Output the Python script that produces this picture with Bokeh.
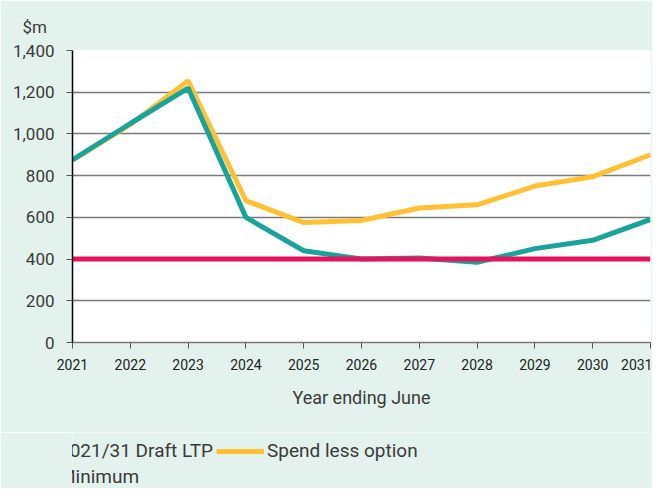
from bokeh.plotting import figure
from bokeh.layouts import column
from bokeh.models import Legend, LegendItem, Range1d, FixedTicker, NumeralTickFormatter
from bokeh.embed import file_html
from bokeh.resources import INLINE

years = [2021, 2022, 2023, 2024, 2025, 2026, 2027, 2028, 2029, 2030, 2031]
draft_ltp = [875, 1050, 1220, 600, 440, 400, 405, 385, 450, 490, 590]
spend_less = [875, 1045, 1255, 680, 575, 585, 645, 660, 750, 795, 900]
minimum = [400, 400, 400, 400, 400, 400, 400, 400, 400, 400, 400]
y_ticks = [0, 200, 400, 600, 800, 1000, 1200, 1400]

BG = "#E4F2EE"
FONT = "Roboto"
TXT = "#3a3a3a"
C_TEAL, C_YEL, C_RED = "#19A39A", "#FFC133", "#E2135F"

p = figure(frame_width=578, frame_height=292, output_backend="svg", toolbar_location=None,
           x_range=Range1d(2021, 2031), y_range=Range1d(0, 1400),
           min_border_left=72, min_border_right=2, min_border_top=0, min_border_bottom=90,
           title="$m")
p.background_fill_color = "white"
p.border_fill_color = BG
p.outline_line_color = None
p.title.align = "left"
p.title.offset = -50
p.title.text_font = FONT
p.title.text_font_size = "17px"
p.title.text_font_style = "normal"
p.title.text_color = TXT
p.title.standoff = 28

p.line(years, spend_less, line_color=C_YEL, line_width=5)
p.line(years, draft_ltp, line_color=C_TEAL, line_width=5)
p.line(years, minimum, line_color=C_RED, line_width=5)

p.xgrid.visible = False
p.ygrid.ticker = FixedTicker(ticks=y_ticks)
p.ygrid.grid_line_color = "#7a7a7a"
p.ygrid.grid_line_width = 1.5

p.yaxis.ticker = FixedTicker(ticks=y_ticks)
p.yaxis.formatter = NumeralTickFormatter(format="0,0")
p.yaxis.axis_line_color = "black"
p.yaxis.axis_line_width = 1.5
p.yaxis.major_tick_line_color = "#555555"
p.yaxis.major_tick_out = 6
p.yaxis.major_tick_in = 0
p.yaxis.minor_tick_line_color = None
p.yaxis.major_label_text_font = FONT
p.yaxis.major_label_text_font_size = "17px"
p.yaxis.major_label_text_color = TXT
p.yaxis.major_label_standoff = 12

p.xaxis.ticker = FixedTicker(ticks=years)
p.xaxis.axis_line_color = "#777777"
p.xaxis.axis_line_width = 1.5
p.xaxis.major_tick_line_color = "#555555"
p.xaxis.major_tick_out = 6
p.xaxis.major_tick_in = 0
p.xaxis.minor_tick_line_color = None
p.xaxis.major_label_text_font = FONT
p.xaxis.major_label_text_font_size = "14px"
p.xaxis.major_label_text_color = "#222222"
p.xaxis.major_label_standoff = 10
p.xaxis.axis_label = "Year ending June"
p.xaxis.axis_label_text_font = FONT
p.xaxis.axis_label_text_font_size = "18px"
p.xaxis.axis_label_text_font_style = "normal"
p.xaxis.axis_label_text_color = TXT
p.xaxis.axis_label_standoff = 14

# legend strip: a second figure whose frame holds the legend
q = figure(width=652, height=56, output_backend="svg", toolbar_location=None,
           x_range=Range1d(0, 1), y_range=Range1d(0, 1),
           min_border_left=0, min_border_right=0, min_border_top=0, min_border_bottom=0)
q.axis.visible = False
q.grid.visible = False
q.outline_line_color = None
q.background_fill_color = BG
q.border_fill_color = BG
l_t = q.line(years, draft_ltp, line_color=C_TEAL, line_width=5)
l_y = q.line(years, spend_less, line_color=C_YEL, line_width=5)
l_m = q.line(years, minimum, line_color=C_RED, line_width=5)

legend = Legend(items=[LegendItem(label="2021/31 Draft LTP", renderers=[l_t]),
                       LegendItem(label="Spend less option", renderers=[l_y]),
                       LegendItem(label="Minimum", renderers=[l_m])],
                location=(-64, 0), ncols=2, orientation="horizontal")
legend.background_fill_alpha = 0
legend.border_line_color = None
legend.padding = 0
legend.margin = 0
legend.spacing = 3
legend.glyph_width = 48
legend.glyph_height = 22
legend.label_height = 22
legend.label_width = 146
legend.label_standoff = 3
legend.label_text_font = FONT
legend.label_text_font_size = "19px"
legend.label_text_color = TXT
q.add_layout(legend, "center")

layout = column(p, q, spacing=0)
open("out.html", "w").write(file_html(layout, INLINE))
